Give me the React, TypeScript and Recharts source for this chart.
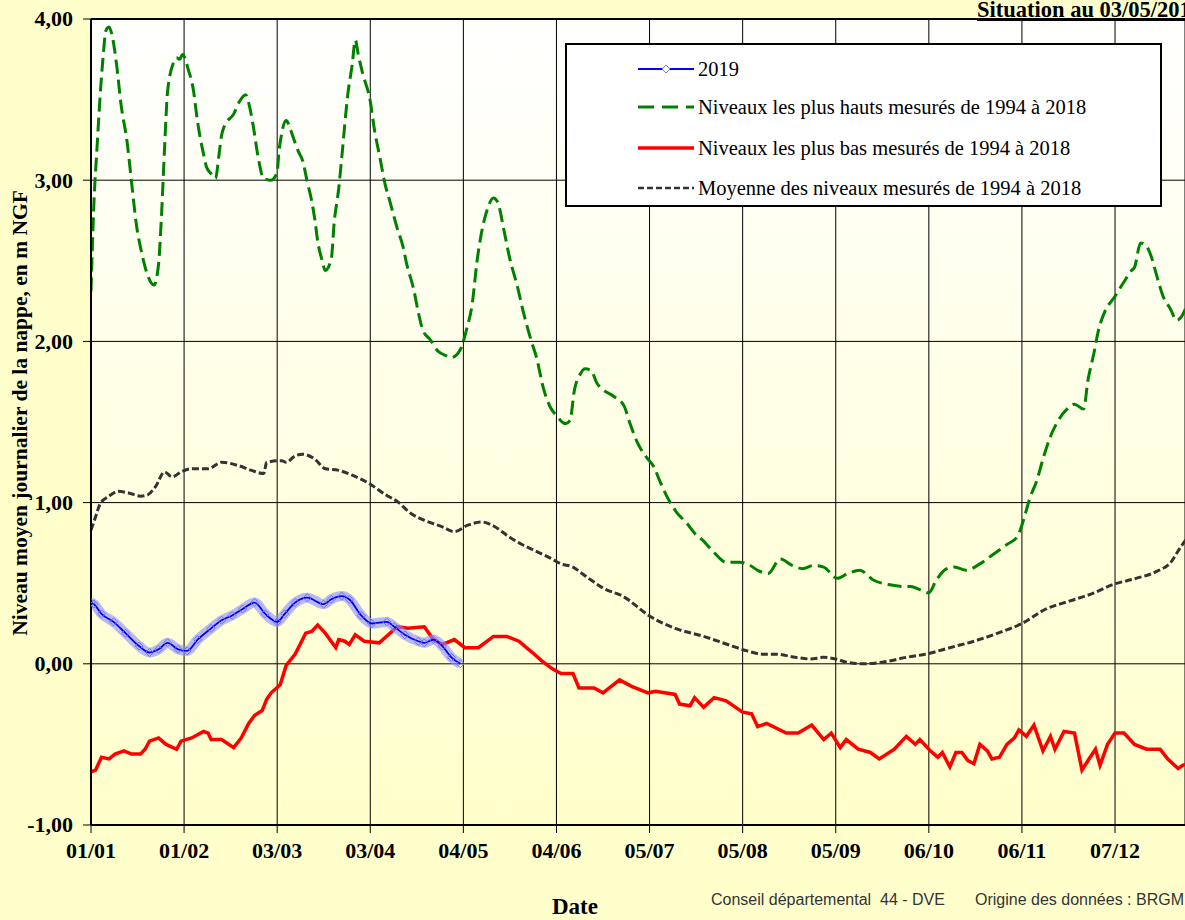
import React from 'react';
import { LineChart, Line, XAxis, YAxis, CartesianGrid, ReferenceLine } from 'recharts';

const tickDays = [0, 31, 62, 93, 124, 155, 186, 217, 248, 279, 310, 341];
const tickLabels = ['01/01', '01/02', '03/03', '03/04', '04/05', '04/06', '05/07', '05/08', '05/09', '06/10', '06/11', '07/12'];
const yTicks = [-1, 0, 1, 2, 3, 4];

const seriesNames = [
  '2019',
  'Niveaux les plus hauts mesurés de 1994 à 2018',
  'Niveaux les plus bas mesurés de 1994 à 2018',
  'Moyenne des niveaux mesurés de 1994 à 2018',
];

const highDays = [0, 1, 2, 3, 4, 5, 6, 7, 8.5, 10, 12, 13.5, 15, 17, 18.5, 21, 22.5, 23.5, 24.5, 25.5, 27.5, 28.5, 29.5, 30.5, 32.5, 34, 35.5, 37.5, 38.5, 40, 41.5, 42.5, 43.5, 44.5, 47.5, 49.5, 51.5, 52.5, 54, 55.5, 57.5, 60, 62, 62.5, 63.5, 65, 66.5, 68, 69, 70.5, 72, 73.5, 74.5, 75.5, 77, 78, 80, 81, 82.5, 83.5, 85.5, 87, 88, 89, 90.5, 93, 94.5, 96, 98, 99.5, 102, 104, 105, 107.5, 109, 110.5, 113, 115.5, 118.5, 120, 123, 125, 127, 128.5, 130, 132, 134, 135.5, 137.5, 139.5, 142, 144, 146.5, 148.5, 150.5, 153, 155, 158, 159.5, 161, 163, 164.5, 166.5, 168.5, 170.5, 174, 177.5, 179.5, 182, 185, 187.5, 189.5, 192, 195, 198.5, 201.5, 203.5, 207, 211.5, 216, 219.5, 222, 225.5, 229.5, 233.5, 237, 240.5, 244, 248.5, 252, 256, 260.5, 266, 270.5, 273, 276, 279, 281.5, 285, 287.5, 291.5, 296, 300.5, 305, 308.5, 310.5, 312.5, 315, 317, 319.5, 321.5, 325, 327.5, 330.5, 332, 334, 335.5, 337.5, 341, 344, 346.5, 347.5, 349.5, 351.5, 353, 355, 357, 359.5, 361.5, 363, 365];
const highValues = [2.31, 2.87, 3.2, 3.51, 3.76, 3.93, 3.95, 3.9, 3.72, 3.47, 3.24, 2.99, 2.74, 2.54, 2.43, 2.35, 2.48, 2.79, 3.2, 3.55, 3.73, 3.76, 3.75, 3.78, 3.68, 3.57, 3.36, 3.16, 3.08, 3.04, 3.01, 3.14, 3.28, 3.34, 3.41, 3.49, 3.53, 3.48, 3.34, 3.16, 3.01, 3.0, 3.05, 3.16, 3.29, 3.37, 3.31, 3.23, 3.18, 3.12, 2.99, 2.87, 2.76, 2.62, 2.5, 2.44, 2.51, 2.74, 2.95, 3.14, 3.53, 3.72, 3.87, 3.78, 3.66, 3.49, 3.3, 3.16, 2.97, 2.87, 2.7, 2.58, 2.49, 2.32, 2.18, 2.07, 2.01, 1.94, 1.91, 1.9, 1.95, 2.07, 2.24, 2.49, 2.67, 2.82, 2.89, 2.86, 2.69, 2.51, 2.34, 2.18, 2.01, 1.89, 1.72, 1.59, 1.54, 1.49, 1.51, 1.7, 1.8, 1.83, 1.82, 1.74, 1.7, 1.66, 1.6, 1.49, 1.37, 1.28, 1.22, 1.13, 1.03, 0.94, 0.87, 0.8, 0.77, 0.7, 0.63, 0.63, 0.61, 0.58, 0.56, 0.65, 0.61, 0.59, 0.61, 0.6, 0.53, 0.56, 0.58, 0.52, 0.49, 0.48, 0.48, 0.46, 0.44, 0.52, 0.59, 0.6, 0.58, 0.62, 0.68, 0.74, 0.79, 0.89, 1.02, 1.14, 1.27, 1.41, 1.49, 1.58, 1.61, 1.58, 1.76, 1.93, 2.07, 2.18, 2.28, 2.37, 2.44, 2.46, 2.61, 2.59, 2.53, 2.4, 2.28, 2.2, 2.13, 2.15, 2.23];

const lowDays = [0, 1.5, 3.5, 6, 8, 11, 13.5, 16.5, 18, 19.5, 22.5, 25, 28.5, 30, 33.5, 37.5, 39, 40, 43.5, 47.5, 50, 52.5, 54.5, 57, 58.5, 60, 63, 65, 68, 71.5, 73.5, 75.5, 78, 81.5, 82.5, 84.5, 86, 88, 91, 96, 99, 102, 105.5, 111, 114, 117, 121, 124.5, 129, 134, 138.5, 142.5, 145, 147, 150, 153.5, 156.5, 160.5, 162.5, 167.5, 170.5, 176, 180, 185.5, 188, 194.5, 196, 199.5, 201, 204, 207.5, 211.5, 217, 220, 222, 225, 231.5, 235.5, 240, 244, 246.5, 249.5, 251.5, 255.5, 259.5, 262.5, 267.5, 271.5, 274.5, 276, 279.5, 282, 283.5, 286, 288, 290, 292, 294, 296, 298.5, 300, 302.5, 305, 307.5, 309, 311.5, 314, 317, 319.5, 321, 324, 327.5, 330, 332, 334.5, 336, 338.5, 341, 344, 347.5, 351.5, 356, 358.5, 362, 363.5, 365];
const lowValues = [-0.67, -0.66, -0.58, -0.59, -0.56, -0.54, -0.56, -0.56, -0.53, -0.48, -0.46, -0.5, -0.53, -0.48, -0.46, -0.42, -0.43, -0.47, -0.47, -0.52, -0.46, -0.37, -0.32, -0.29, -0.22, -0.18, -0.13, -0.01, 0.06, 0.19, 0.2, 0.24, 0.19, 0.1, 0.15, 0.14, 0.12, 0.18, 0.14, 0.13, 0.18, 0.23, 0.22, 0.23, 0.15, 0.12, 0.15, 0.1, 0.1, 0.17, 0.17, 0.14, 0.1, 0.07, 0.02, -0.03, -0.06, -0.06, -0.15, -0.15, -0.18, -0.1, -0.14, -0.18, -0.17, -0.19, -0.25, -0.26, -0.21, -0.27, -0.21, -0.23, -0.3, -0.31, -0.39, -0.37, -0.43, -0.43, -0.38, -0.47, -0.43, -0.52, -0.47, -0.53, -0.55, -0.59, -0.53, -0.45, -0.5, -0.47, -0.54, -0.58, -0.55, -0.64, -0.55, -0.55, -0.6, -0.62, -0.5, -0.54, -0.59, -0.58, -0.5, -0.46, -0.41, -0.45, -0.38, -0.54, -0.45, -0.53, -0.42, -0.43, -0.66, -0.6, -0.53, -0.63, -0.5, -0.43, -0.43, -0.5, -0.53, -0.53, -0.59, -0.65, -0.63, -0.62];

const meanDays = [0, 1.5, 3, 6, 9, 12.5, 16.5, 19, 21.5, 24.5, 27, 30, 33.5, 39, 43.5, 49, 53.5, 57.5, 58.5, 63.5, 65, 68, 70.5, 74.5, 78, 82.5, 87, 92.5, 98, 102.5, 106, 111, 117, 121, 125.5, 130, 134.5, 139, 143.5, 148, 152.5, 156.5, 160.5, 163.5, 166.5, 170.5, 177, 186.5, 194.5, 204, 212, 218.5, 223.5, 228, 234.5, 239.5, 244, 248, 251.5, 257, 263.5, 271.5, 278, 286, 294, 302, 310, 318, 326, 334, 340, 348, 354.5, 360, 362, 365];
const meanValues = [0.83, 0.91, 0.99, 1.04, 1.07, 1.06, 1.04, 1.05, 1.1, 1.19, 1.16, 1.19, 1.21, 1.21, 1.25, 1.23, 1.2, 1.18, 1.25, 1.26, 1.25, 1.29, 1.3, 1.27, 1.21, 1.2, 1.17, 1.12, 1.05, 1.0, 0.94, 0.89, 0.85, 0.82, 0.86, 0.88, 0.85, 0.79, 0.74, 0.7, 0.66, 0.62, 0.6, 0.56, 0.52, 0.47, 0.42, 0.29, 0.22, 0.17, 0.12, 0.08, 0.06, 0.06, 0.04, 0.03, 0.04, 0.03, 0.01, 0.0, 0.01, 0.04, 0.06, 0.1, 0.14, 0.19, 0.25, 0.34, 0.39, 0.44, 0.49, 0.53, 0.57, 0.64, 0.7, 0.78];

const y2019Days = [0, 1, 3.5, 7.5, 11.5, 16, 19.5, 22.5, 25.5, 29, 32, 35.5, 40, 43.5, 47, 50.5, 54.5, 58, 62, 64.5, 68, 72, 77.5, 80, 83.5, 86, 90, 93.5, 98.5, 101, 104.5, 109, 111, 114, 117, 120, 123];
const y2019Values = [0.38, 0.37, 0.31, 0.26, 0.19, 0.11, 0.07, 0.09, 0.13, 0.09, 0.08, 0.15, 0.22, 0.27, 0.3, 0.34, 0.38, 0.31, 0.26, 0.31, 0.38, 0.41, 0.37, 0.4, 0.42, 0.4, 0.3, 0.25, 0.26, 0.23, 0.18, 0.14, 0.13, 0.15, 0.11, 0.04, 0.0];

const toRows = (days: number[], vals: number[]) => days.map((d, i) => ({ day: d, v: vals[i] }));
const highData = toRows(highDays, highValues);
const lowData = toRows(lowDays, lowValues);
const meanData = toRows(meanDays, meanValues);
const data2019 = toRows(y2019Days, y2019Values);

const SERIF = '"Liberation Serif", "Times New Roman", serif';
const SANS = '"Liberation Sans", Arial, sans-serif';

const Diamond = (props: any) => {
  const { cx, cy, index } = props;
  if (cx == null || cy == null) return <g key={`dm${index}`} />;
  return (
    <path
      key={`dm${index}`}
      d={`M${cx},${cy - 4} L${cx + 4},${cy} L${cx},${cy + 4} L${cx - 4},${cy} Z`}
      fill="none"
      stroke="#7070ff"
      strokeWidth={1}
    />
  );
};

const XTick = (props: any) => {
  const { x, y, payload } = props;
  return (
    <text x={x} y={y} dy="0.72em" textAnchor="middle" fill="#000" fontFamily={SERIF} fontWeight="bold" fontSize={22}>
      {tickLabels[tickDays.indexOf(payload.value)] ?? ''}
    </text>
  );
};

const YTick = (props: any) => {
  const { x, y, payload } = props;
  return (
    <text x={x} y={y} dy="0.34em" textAnchor="end" fill="#000" fontFamily={SERIF} fontWeight="bold" fontSize={22}>
      {Number(payload.value).toFixed(2).replace('.', ',')}
    </text>
  );
};

const LegendBox = () => {
  const rows = [
    { top: 24, sw: (
      <svg width={56} height={12}>
        <line x1={0} y1={6} x2={56} y2={6} stroke="#0000ff" strokeWidth={2} />
        <path d="M28,2 L32,6 L28,10 L24,6 Z" fill="#fff" stroke="#7070ff" strokeWidth={1} />
      </svg>
    ) },
    { top: 62, sw: (
      <svg width={56} height={12}>
        <line x1={0} y1={6} x2={56} y2={6} stroke="#008000" strokeWidth={3} strokeDasharray="16 8" />
      </svg>
    ) },
    { top: 103, sw: (
      <svg width={56} height={12}>
        <line x1={0} y1={6} x2={56} y2={6} stroke="#ff0000" strokeWidth={3.5} />
      </svg>
    ) },
    { top: 143, sw: (
      <svg width={56} height={12}>
        <line x1={0} y1={6} x2={56} y2={6} stroke="#333333" strokeWidth={2.5} strokeDasharray="6 3" />
      </svg>
    ) },
  ];
  return (
    <div
      style={{
        position: 'absolute',
        left: 565,
        top: 43,
        boxSizing: 'border-box',
        width: 597,
        height: 164,
        border: '2px solid #000',
        background: '#fff',
        fontFamily: SERIF,
        fontSize: 20.5,
        color: '#000',
      }}
    >
      {rows.map((r, i) => (
        <div key={i} style={{ position: 'absolute', left: 71, top: r.top - 12, height: 24, display: 'flex', alignItems: 'center', whiteSpace: 'nowrap' }}>
          {r.sw}
          <span style={{ marginLeft: 4, lineHeight: '24px' }}>{seriesNames[i]}</span>
        </div>
      ))}
    </div>
  );
};

export default function App() {
  return (
    <div style={{ position: 'absolute', left: 0, top: 0, width: 1185, height: 920, overflow: 'hidden', background: '#ffffcc' }}>
      <LineChart width={1185} height={920} margin={{ top: 19, right: 0, bottom: 0, left: 0 }}>
        <defs>
          <linearGradient id="plotBg" x1="0" y1="0" x2="0" y2="1">
            <stop offset="0%" stopColor="#ffffff" />
            <stop offset="100%" stopColor="#ffffcc" />
          </linearGradient>
        </defs>
        <CartesianGrid stroke="#000" strokeWidth={1} fill="url(#plotBg)" fillOpacity={1} />
        <XAxis
          type="number"
          dataKey="day"
          domain={[0, 364.3]}
          allowDataOverflow
          ticks={tickDays}
          interval={0}
          height={95}
          axisLine={{ stroke: '#000', strokeWidth: 2 }}
          tickLine={{ stroke: '#000' }}
          tickSize={8}
          tickMargin={9}
          tick={<XTick />}
        />
        <YAxis
          type="number"
          domain={[-1, 4]}
          ticks={yTicks}
          interval={0}
          width={91}
          axisLine={{ stroke: '#000', strokeWidth: 2 }}
          tickLine={{ stroke: '#000' }}
          tickSize={8}
          tickMargin={10}
          tick={<YTick />}
        />
        <ReferenceLine y={4} stroke="#000" strokeWidth={2} />
        <Line data={highData} dataKey="v" name={seriesNames[1]} type="monotone" stroke="#008000" strokeWidth={3} strokeDasharray="14 6" dot={false} isAnimationActive={false} />
        <Line data={meanData} dataKey="v" name={seriesNames[3]} type="monotone" stroke="#333333" strokeWidth={3} strokeDasharray="7 3" dot={false} isAnimationActive={false} />
        <Line data={lowData} dataKey="v" name={seriesNames[2]} type="linear" stroke="#ff0000" strokeWidth={3.5} dot={false} isAnimationActive={false} />
        <Line data={data2019} dataKey="v" name="band" type="monotone" stroke="#8a8aff" strokeOpacity={0.6} strokeWidth={10} dot={false} legendType="none" isAnimationActive={false} />
        <Line data={data2019} dataKey="v" name={seriesNames[0]} type="monotone" stroke="#0000ff" strokeWidth={1.8} dot={Diamond} isAnimationActive={false} />
      </LineChart>
      <LegendBox />
      <div style={{ position: 'absolute', left: 977, top: -1, fontFamily: SERIF, fontWeight: 'bold', fontSize: 22.5, textDecoration: 'underline', whiteSpace: 'nowrap', lineHeight: '22px' }}>
        Situation au 03/05/2019
      </div>
      <div style={{ position: 'absolute', left: 20, top: 413, transform: 'translate(-50%, -50%) rotate(-90deg)', fontFamily: SERIF, fontWeight: 'bold', fontSize: 21.5, whiteSpace: 'nowrap' }}>
        Niveau moyen journalier de la nappe, en m NGF
      </div>
      <div style={{ position: 'absolute', left: 575, top: 907, transform: 'translate(-50%, -50%)', fontFamily: SERIF, fontWeight: 'bold', fontSize: 23, whiteSpace: 'nowrap' }}>
        Date
      </div>
      <div style={{ position: 'absolute', left: 711, top: 891, fontFamily: SANS, fontSize: 16, color: '#333', whiteSpace: 'pre', lineHeight: '18px' }}>
        {'Conseil départemental  44 - DVE'}
      </div>
      <div style={{ position: 'absolute', left: 975, top: 891, fontFamily: SANS, fontSize: 16, color: '#333', whiteSpace: 'pre', lineHeight: '18px' }}>
        {'Origine des données : BRGM'}
      </div>
    </div>
  );
}
